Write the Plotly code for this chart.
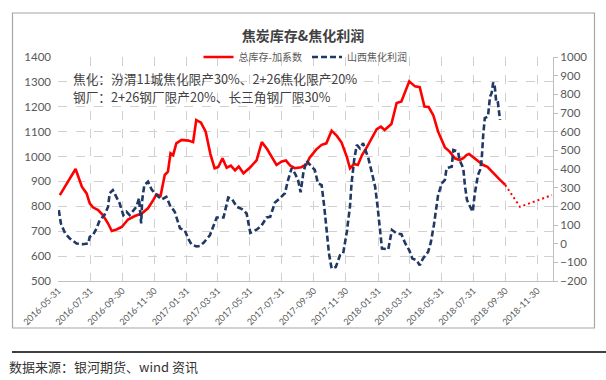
import plotly.graph_objects as go

# ---------------- data ----------------
stock_dates = [
    "2016-06-03", "2016-06-19", "2016-07-03", "2016-07-15", "2016-07-24", "2016-07-30",
    "2016-08-05", "2016-08-15", "2016-08-24", "2016-09-03", "2016-09-10", "2016-09-19",
    "2016-09-29", "2016-10-11", "2016-10-24", "2016-11-06", "2016-11-18", "2016-11-28",
    "2016-12-04", "2016-12-12", "2016-12-20", "2016-12-26", "2016-12-31", "2017-01-05",
    "2017-01-11", "2017-01-21", "2017-02-03", "2017-02-12", "2017-02-18", "2017-02-27",
    "2017-03-08", "2017-03-17", "2017-03-25", "2017-04-01", "2017-04-09", "2017-04-17",
    "2017-04-25", "2017-05-03", "2017-05-10", "2017-05-19", "2017-05-31", "2017-06-13",
    "2017-06-23", "2017-07-03", "2017-07-10", "2017-07-21", "2017-07-31", "2017-08-08",
    "2017-08-16", "2017-08-25", "2017-09-06", "2017-09-16", "2017-09-22", "2017-10-05",
    "2017-10-15", "2017-10-24", "2017-11-03", "2017-11-13", "2017-11-22", "2017-12-02",
    "2017-12-08", "2017-12-16", "2017-12-23", "2017-12-31", "2018-01-09", "2018-01-19",
    "2018-01-28", "2018-02-05", "2018-02-12", "2018-02-25", "2018-03-07", "2018-03-16",
    "2018-03-23", "2018-03-31", "2018-04-11", "2018-04-20", "2018-04-29", "2018-05-07",
    "2018-05-16", "2018-05-25", "2018-06-07", "2018-06-16", "2018-06-26", "2018-07-05",
    "2018-07-12", "2018-07-18", "2018-07-23", "2018-07-31", "2018-08-09", "2018-08-19",
    "2018-08-27", "2018-09-07", "2018-09-20", "2018-09-30",
]
stock_values = [
    845, 899, 950, 879, 852, 812,
    796, 785, 765, 731, 701, 707,
    717, 747, 761, 771, 792, 825,
    848, 842, 926, 939, 1013, 1006,
    1053, 1067, 1064, 1058, 1147, 1136,
    1100, 1010, 953, 958, 993, 955,
    964, 945, 960, 933, 955, 985,
    1058, 1030, 1005, 966, 980, 984,
    964, 953, 957, 968, 995, 1029,
    1047, 1053, 1104, 1083, 1056, 999,
    953, 970, 966, 1006, 1037, 1073,
    1110, 1120, 1107, 1131, 1215, 1221,
    1261, 1302, 1282, 1279, 1201, 1199,
    1165, 1100, 1037, 1020, 993, 986,
    993, 1006, 1010, 997, 983, 966,
    959, 933, 906, 886,
]

forecast_dates = ["2018-09-30", "2018-10-28", "2018-12-28"]
forecast_values = [886, 798, 845]

profit_dates = [
    "2016-06-01", "2016-06-05", "2016-06-13", "2016-06-22", "2016-07-05", "2016-07-17",
    "2016-07-27", "2016-07-30", "2016-08-05", "2016-08-12", "2016-08-18", "2016-08-27",
    "2016-09-03", "2016-09-06", "2016-09-12", "2016-09-19", "2016-09-25", "2016-10-02",
    "2016-10-08", "2016-10-14", "2016-10-21", "2016-10-27", "2016-11-01", "2016-11-05",
    "2016-11-07", "2016-11-11", "2016-11-18", "2016-11-25", "2016-12-04", "2016-12-14",
    "2016-12-23", "2016-12-30", "2017-01-08", "2017-01-18", "2017-01-27", "2017-02-03",
    "2017-02-09", "2017-02-19", "2017-02-25", "2017-03-04", "2017-03-16", "2017-03-23",
    "2017-03-29", "2017-04-11", "2017-04-20", "2017-04-27", "2017-05-06", "2017-05-16",
    "2017-05-25", "2017-06-01", "2017-06-13", "2017-06-22", "2017-07-02", "2017-07-09",
    "2017-07-18", "2017-07-28", "2017-08-06", "2017-08-12", "2017-08-19", "2017-08-25",
    "2017-08-31", "2017-09-05", "2017-09-10", "2017-09-16", "2017-09-26", "2017-10-02",
    "2017-10-08", "2017-10-15", "2017-10-20", "2017-10-24", "2017-10-29", "2017-11-03",
    "2017-11-11", "2017-11-19", "2017-11-25", "2017-12-02", "2017-12-08", "2017-12-11",
    "2017-12-16", "2017-12-21", "2017-12-27", "2018-01-02", "2018-01-07", "2018-01-12",
    "2018-01-19", "2018-01-25", "2018-01-30", "2018-02-03", "2018-02-07", "2018-02-19",
    "2018-02-26", "2018-03-07", "2018-03-16", "2018-03-23", "2018-03-31", "2018-04-06",
    "2018-04-14", "2018-04-20", "2018-04-26", "2018-05-06", "2018-05-11", "2018-05-17",
    "2018-05-22", "2018-05-25", "2018-06-01", "2018-06-07", "2018-06-10", "2018-06-20",
    "2018-06-23", "2018-07-02", "2018-07-05", "2018-07-12", "2018-07-15", "2018-07-19",
    "2018-07-25", "2018-07-30", "2018-08-03", "2018-08-09", "2018-08-13", "2018-08-16",
    "2018-08-19", "2018-08-22", "2018-08-28", "2018-09-01", "2018-09-04", "2018-09-07",
    "2018-09-10", "2018-09-13", "2018-09-16", "2018-09-20",
]
profit_values = [
    180, 108, 55, 28, 1, -3,
    1, 37, 46, 82, 126, 153,
    198, 270, 287, 251, 216, 153,
    171, 153, 180, 198, 243, 108,
    234, 314, 332, 290, 262, 236,
    251, 205, 171, 82, 73, 25,
    -5, -15, -12, 5, 45, 95,
    140, 140, 247, 240, 198, 185,
    162, 58, 75, 95, 140, 144,
    220, 245, 270, 341, 405, 377,
    341, 275, 377, 444, 410, 395,
    323, 314, 198, 90, -53, -133,
    -125, -62, -53, 64, 198, 323,
    448, 529, 511, 538, 502, 458,
    377, 305, 189, 73, -26, -31,
    73, 55, 51, 4, -35, -80,
    -89, -116, -80, -44, 5, 100,
    216, 260, 323, 341, 404, 412,
    502, 493, 448, 404, 314, 234,
    198, 171, 270, 368, 395, 448,
    583, 673, 681, 788, 806, 864,
    842, 753, 756, 663,
]

tick_dates = [
    "2016-05-31", "2016-07-31", "2016-09-30", "2016-11-30", "2017-01-31", "2017-03-31",
    "2017-05-31", "2017-07-31", "2017-09-30", "2017-11-30", "2018-01-31", "2018-03-31",
    "2018-05-31", "2018-07-31", "2018-09-30", "2018-11-30",
]
left_ticks = [500, 600, 700, 800, 900, 1000, 1100, 1200, 1300, 1400]
right_ticks = [-200, -100, 0, 100, 200, 300, 400, 500, 600, 700, 800, 900, 1000]

series_names = ["总库存-加系数", "山西焦化利润"]
title_text = "焦炭库存&焦化利润"
note_lines = ["焦化：汾渭11城焦化限产30%、2+26焦化限产20%",
              "钢厂：2+26钢厂限产20%、长三角钢厂限30%"]
source_text = "数据来源：银河期货、wind 资讯"

# ---------------- figure ----------------
RED = "#ff0000"
NAVY = "#1f3864"
GRID = "#d0d0d0"
AXIS = "#bfbfbf"
TXT = "#595959"
FONT = "Lato, Noto Sans CJK SC, sans-serif"
CJK = "Noto Sans CJK SC, Lato, sans-serif"

fig = go.Figure()
fig.add_trace(go.Scatter(
    x=stock_dates, y=stock_values, name=series_names[0], mode="lines",
    line=dict(color=RED, width=2.6), yaxis="y"))
fig.add_trace(go.Scatter(
    x=profit_dates, y=profit_values, name=series_names[1], mode="lines",
    line=dict(color=NAVY, width=2.6, dash="6px,3px"), yaxis="y2"))
fig.add_trace(go.Scatter(
    x=forecast_dates, y=forecast_values, mode="lines", showlegend=False,
    line=dict(color=RED, width=2, dash="2px,3px"), yaxis="y"))

L, R, T, B = 58, 53, 57, 99
W, H = 606, 380
pw, ph = W - L - R, H - T - B


def px_x(x):
    return (x - L) / pw


def px_y(y):
    return (H - B - y) / ph


fig.update_layout(
    width=W, height=H,
    margin=dict(l=L, r=R, t=T, b=B),
    paper_bgcolor="white", plot_bgcolor="white",
    font=dict(family=FONT, color=TXT, size=11),
    hovermode=False,
    title=dict(text="<b>" + title_text + "</b>", x=0.5, xref="container", xanchor="center",
               y=1 - 36 / H, yref="container", yanchor="middle",
               font=dict(family=CJK, size=14, color="#404040")),
    showlegend=True,
    legend=dict(orientation="h", x=0.5, xanchor="center", y=1.0, yanchor="middle",
                bgcolor="rgba(0,0,0,0)", font=dict(family=CJK, size=10, color=TXT),
                itemwidth=30, tracegroupgap=0),
    xaxis=dict(
        type="date", range=["2016-05-30 12:00", "2018-12-30"],
        tickmode="array", tickvals=tick_dates, ticktext=tick_dates,
        tickangle=-45, tickfont=dict(size=9, color=TXT, family=FONT),
        showgrid=True, gridcolor=GRID, griddash="dash", gridwidth=1,
        showline=True, linecolor=AXIS, linewidth=1, ticks="", zeroline=False,
        automargin=False,
    ),
    yaxis=dict(
        range=[500, 1400], tickmode="array", tickvals=left_ticks,
        showgrid=True, gridcolor=GRID, griddash="dash", gridwidth=1,
        showline=False, zeroline=False, ticks="", ticklabelstandoff=6,
        tickfont=dict(size=11.5, color=TXT, family=FONT), automargin=False,
    ),
    yaxis2=dict(
        range=[-200, 1000], tickmode="array", tickvals=right_ticks,
        overlaying="y", side="right", showgrid=False, zeroline=False,
        showline=True, linecolor=AXIS, linewidth=1,
        ticks="outside", ticklen=4, tickcolor=AXIS,
        tickfont=dict(size=11.5, color=TXT, family=FONT), automargin=False,
    ),
)

# notes inside plot
fig.add_annotation(text=note_lines[0], xref="paper", yref="paper",
                   x=px_x(71), y=px_y(78), xanchor="left", yanchor="middle",
                   showarrow=False, font=dict(family=CJK, size=12.7, color="#404040"))
fig.add_annotation(text=note_lines[1], xref="paper", yref="paper",
                   x=px_x(71), y=px_y(96), xanchor="left", yanchor="middle",
                   showarrow=False, font=dict(family=CJK, size=12.7, color="#404040"))

# source
fig.add_annotation(text=source_text, xref="paper", yref="paper",
                   x=px_x(7), y=px_y(366), xanchor="left", yanchor="middle",
                   showarrow=False, font=dict(family=CJK, size=13, color="#333333"))

# chart frame and separator line
fig.add_shape(type="rect", xref="paper", yref="paper",
              x0=px_x(12.5), x1=px_x(594.5), y0=px_y(328), y1=px_y(13),
              line=dict(color="#a6a6a6", width=1.2), fillcolor="rgba(0,0,0,0)", layer="below")
fig.add_shape(type="line", xref="paper", yref="paper",
              x0=px_x(12), x1=px_x(606), y0=px_y(352), y1=px_y(352),
              line=dict(color="#000000", width=1.5))

fig.write_html("out.html",
               config={"displayModeBar": False, "staticPlot": True},
               post_script="document.body.style.margin='0';document.body.style.overflow='hidden';")
